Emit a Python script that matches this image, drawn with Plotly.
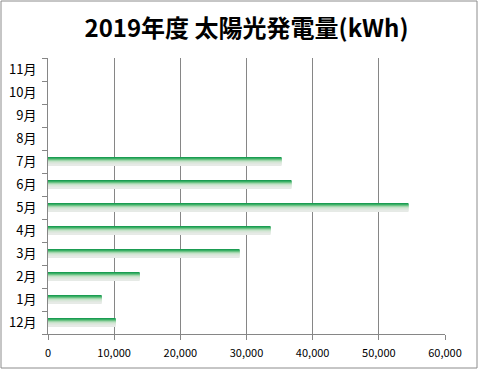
import plotly.graph_objects as go

months = ["12月", "1月", "2月", "3月", "4月", "5月", "6月", "7月", "8月", "9月", "10月", "11月"]
generation_kwh = [10230, 8110, 13850, 28950, 33640, 54480, 36800, 35300, None, None, None, None]
x_tick_values = [0, 10000, 20000, 30000, 40000, 50000, 60000]
title_text = "2019年度 太陽光発電量(kWh)"

# gradient slices, top (dark green) to bottom (light grey)
slice_colors = ["#1b9c52", "#3aaf66", "#6cc385", "#a1d6ad", "#c4e2c8", "#d6e6d7", "#dfe7df", "#e6eae6"]
bar_width = 0.37

fig = go.Figure()
n = len(slice_colors)
w = bar_width / n
for i, c in enumerate(slice_colors):
    off = bar_width / 2 - (i + 1) * w
    fig.add_trace(go.Bar(
        y=months, x=generation_kwh, orientation="h",
        width=w, offset=off,
        marker=dict(color=c, line=dict(width=0)),
        showlegend=False, hoverinfo="x+y",
    ))

font_family = "Noto Sans CJK JP, Noto Sans, sans-serif"
grid_col = "#868686"

fig.update_layout(
    width=479, height=371,
    margin=dict(l=48, r=34, t=58, b=37, autoexpand=False),
    paper_bgcolor="white", plot_bgcolor="white",
    barmode="overlay",
    title=dict(text="<b>" + title_text + "</b>", x=0.5, xref="paper", xanchor="center",
               y=1 - 29 / 371, yanchor="middle",
               font=dict(family=font_family, size=24, color="#000000")),
    xaxis=dict(
        range=[0, 60000], tickvals=x_tick_values, tickformat=",",
        showgrid=True, gridcolor=grid_col, gridwidth=1,
        showline=True, linecolor=grid_col, linewidth=1,
        ticks="outside", ticklen=5, tickcolor=grid_col,
        ticklabelstandoff=4,
        zeroline=False, automargin=False,
        tickfont=dict(family=font_family, size=11, color="#000000"),
        fixedrange=True,
    ),
    yaxis=dict(
        categoryorder="array", categoryarray=months,
        range=[-0.5, len(months) - 0.5],
        showgrid=False, automargin=False,
        showline=True, linecolor=grid_col, linewidth=1,
        ticks="outside", ticklen=5, tickcolor=grid_col, tickson="boundaries",
        ticklabelstandoff=8,
        tickfont=dict(family=font_family, size=13, color="#000000"),
        fixedrange=True,
    ),
    shapes=[dict(
        type="rect", xref="paper", yref="paper",
        x0=(1 - 48) / 397, x1=(477 - 48) / 397,
        y0=(334 - 368) / 276, y1=(334 - 1) / 276,
        line=dict(color="#8c8c8c", width=1), fillcolor="rgba(0,0,0,0)", layer="below",
    )],
)

fig.write_html("out.html", config={"displayModeBar": False},
               post_script="document.body.style.margin='0';document.body.style.padding='0';")
